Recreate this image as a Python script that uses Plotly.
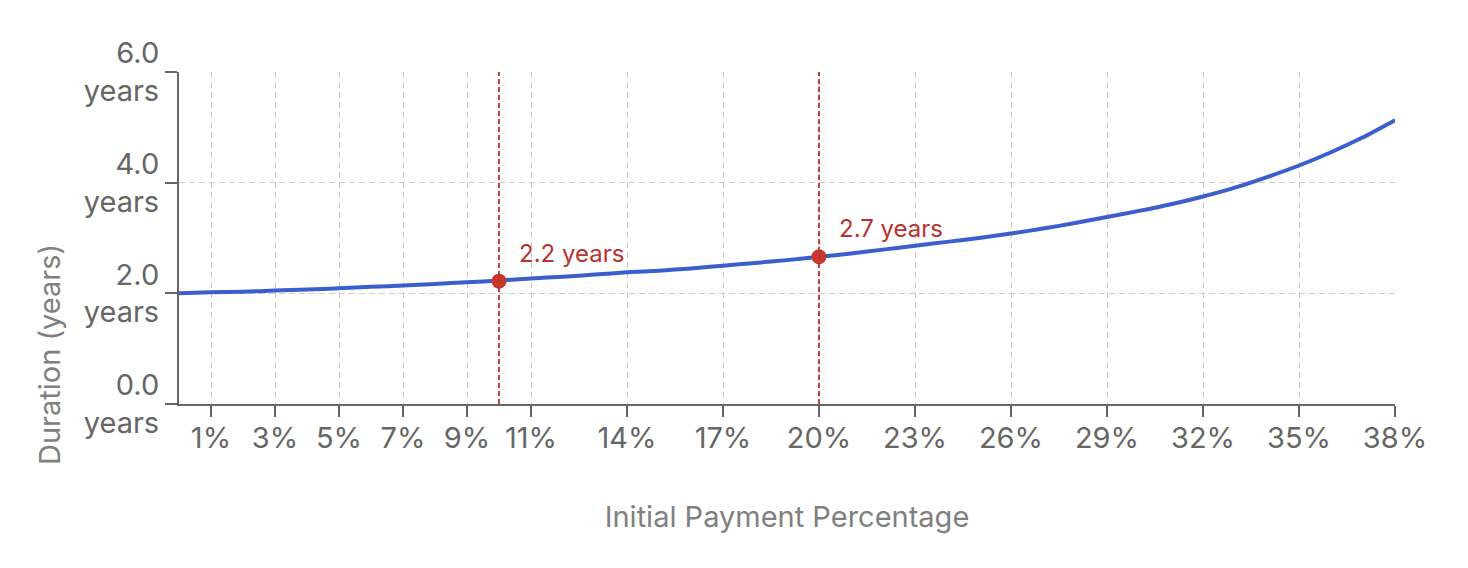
import plotly.graph_objects as go

# ---- data ----
pct = list(range(0, 39))
duration = [2.00, 2.02, 2.03, 2.05, 2.07, 2.09, 2.12, 2.14, 2.17, 2.20,
            2.23, 2.27, 2.30, 2.34, 2.38, 2.41, 2.45, 2.50, 2.55, 2.60,
            2.66, 2.72, 2.79, 2.86, 2.93, 3.00, 3.08, 3.17, 3.27, 3.38,
            3.49, 3.61, 3.75, 3.91, 4.10, 4.31, 4.55, 4.82, 5.13]

x_ticks = [1, 3, 5, 7, 9, 11, 14, 17, 20, 23, 26, 29, 32, 35, 38]
x_tick_text = [f"{v}%" for v in x_ticks]
y_ticks = [0, 2, 4, 6]
y_tick_text = ["0.0<br>years", "2.0<br>years", "4.0<br>years", "6.0<br>years"]

mark_x = [10, 20]
mark_y = [2.22, 2.66]
mark_labels = ["2.2 years", "2.7 years"]

FONT = "Inter, Liberation Sans, Arial, sans-serif"
RED = "#c8372d"
BLUE = "#3a5fcd"

fig = go.Figure()

fig.add_trace(go.Scatter(
    x=pct, y=duration, mode="lines",
    line=dict(color=BLUE, width=4, shape="spline", smoothing=0.6),
    hoverinfo="skip", showlegend=False,
))

for xv in mark_x:
    fig.add_shape(type="line", x0=xv, x1=xv, xref="x", y0=0, y1=1, yref="paper",
                  line=dict(color="#b8322c", width=1.8, dash="5px,3px"), layer="above")

fig.add_trace(go.Scatter(
    x=mark_x, y=mark_y, mode="markers",
    marker=dict(color=RED, size=15, line=dict(width=0)),
    hoverinfo="skip", showlegend=False,
))

for xv, yv, t in zip(mark_x, mark_y, mark_labels):
    fig.add_annotation(x=xv, y=yv, text=t, showarrow=False,
                       xanchor="left", yanchor="middle", xshift=18, yshift=28,
                       font=dict(family=FONT, size=24, color="#b8322c"))

# y-axis title (placed like the reference, below the vertical centre)
fig.add_annotation(text="Duration (years)", xref="paper", yref="paper",
                   x=-0.106, y=0.148, textangle=-90, showarrow=False,
                   xanchor="center", yanchor="middle",
                   font=dict(family=FONT, size=29, color="#808080"))

fig.update_layout(
    width=1460, height=560,
    margin=dict(l=171, r=73, t=64, b=164),
    paper_bgcolor="white", plot_bgcolor="white",
    font=dict(family=FONT, color="#666666"),
    showlegend=False,
)

fig.update_xaxes(
    range=[0, 38], tickmode="array", tickvals=x_ticks, ticktext=x_tick_text,
    tickfont=dict(size=29, color="#666666"),
    showgrid=True, gridcolor="#cccccc", gridwidth=1.2, griddash="6px,4px",
    showline=True, linecolor="#666666", linewidth=2,
    ticks="outside", ticklen=11, tickwidth=2, tickcolor="#666666",
    ticklabelstandoff=-4,
    zeroline=False,
    title=dict(text="Initial Payment Percentage", font=dict(size=29, color="#808080"), standoff=53),
)

fig.update_yaxes(
    range=[0, 6], tickmode="array", tickvals=y_ticks, ticktext=y_tick_text,
    tickfont=dict(size=29, color="#666666"),
    showgrid=True, gridcolor="#cccccc", gridwidth=1.2, griddash="6px,4px",
    showline=True, linecolor="#666666", linewidth=2,
    ticks="outside", ticklen=12, tickwidth=2, tickcolor="#666666",
    zeroline=False,
)

fig.write_html("out.html")
